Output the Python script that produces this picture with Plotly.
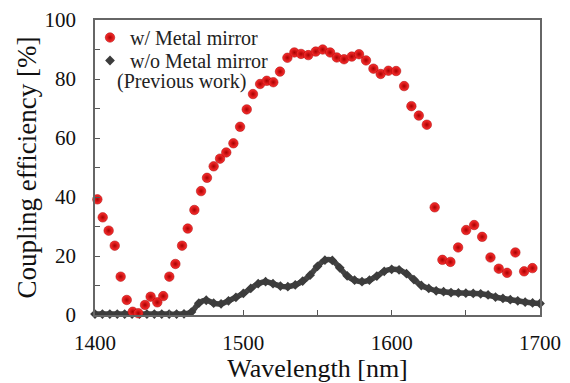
import plotly.graph_objects as go

# Red: with metal mirror
red_wl = [1401.6, 1405.2, 1409.2, 1413.3, 1417.3, 1421.4, 1425.4, 1429.2, 1433.7, 1437.5,
          1442.0, 1446.0, 1450.1, 1454.2, 1458.7, 1462.5, 1467.0, 1471.5, 1475.5, 1480.0,
          1484.3, 1488.5, 1493.3, 1497.8, 1502.3, 1506.5, 1511.3, 1515.8, 1520.2, 1524.7,
          1529.7, 1534.4, 1538.9, 1543.8, 1548.8, 1553.5, 1558.5, 1563.0, 1567.9, 1573.1,
          1578.0, 1582.7, 1587.7, 1592.6, 1597.8, 1603.0, 1608.4, 1613.3, 1618.3, 1623.7,
          1629.0, 1634.2, 1639.6, 1644.8, 1650.2, 1655.6, 1661.0, 1666.6, 1672.2, 1677.8,
          1683.4, 1689.3, 1694.9]
red_val = [39.2, 33.1, 28.6, 23.5, 13.0, 5.1, 1.1, 0.6, 3.4, 6.2,
           4.3, 6.4, 13.0, 17.3, 23.5, 29.3, 35.6, 42.0, 46.5, 50.4,
           53.0, 55.1, 58.2, 63.8, 69.7, 74.9, 78.3, 79.4, 78.9, 82.5,
           87.2, 89.0, 88.5, 88.1, 89.3, 90.0, 89.0, 87.3, 86.7, 87.6,
           88.4, 86.3, 83.5, 81.7, 82.8, 82.7, 77.6, 70.8, 67.6, 64.5,
           36.5, 18.7, 18.0, 22.9, 28.8, 30.5, 26.5, 19.5, 15.7, 14.3,
           21.2, 14.8, 15.9]

# Gray: without metal mirror (previous work)
gray_wl = [1400, 1405, 1410, 1415, 1420, 1425, 1430, 1435, 1440, 1445, 1450, 1455, 1460,
           1465, 1470, 1475, 1480, 1485, 1490, 1495, 1500, 1505, 1510, 1515, 1520, 1525,
           1530, 1535, 1540, 1545, 1550, 1555, 1560, 1565, 1570, 1575, 1580, 1585, 1590,
           1595, 1600, 1605, 1610, 1615, 1620, 1625, 1630, 1635, 1640, 1645, 1650, 1655,
           1660, 1665, 1670, 1675, 1680, 1685, 1690, 1695, 1700]
gray_val = [0.3, 0.3, 0.3, 0.3, 0.3, 0.3, 0.3, 0.3, 0.3, 0.3, 0.3, 0.3, 0.4,
            1.0, 4.0, 5.0, 4.0, 3.8, 4.8, 6.0, 7.3, 9.0, 10.6, 11.3, 10.6, 9.8,
            9.6, 10.2, 11.5, 13.5, 16.5, 18.6, 18.5, 16.0, 13.3, 11.8, 11.3, 11.8, 13.2,
            14.8, 15.5, 15.3, 14.0, 12.0, 10.0, 9.0, 8.2, 7.9, 7.6, 7.5, 7.4, 7.3,
            7.2, 6.8, 6.1, 5.6, 5.2, 4.8, 4.4, 4.1, 3.9]

FONT = "Liberation Serif"
RED_MARKER = dict(symbol="circle", size=9.5, color="#ff3030",
                  gradient=dict(type="radial", color="#a80000"),
                  line=dict(width=0.5, color="#a00000"))
GRAY_MARKER = dict(symbol="diamond", size=7.5, color="#3c3c3c")

L, R, T, B, W, H = 95, 30, 20, 68, 570, 383
pw, ph = W - L - R, H - T - B

def px_x(p):
    return (p - L) / pw

def px_y(p):
    return 1 - (p - T) / ph

fig = go.Figure()
fig.add_trace(go.Scatter(
    x=gray_wl, y=gray_val, mode="lines+markers", showlegend=False,
    line=dict(color="#444444", width=5.5, shape="spline"),
    marker=GRAY_MARKER, cliponaxis=False,
))
fig.add_trace(go.Scatter(
    x=red_wl, y=red_val, mode="markers", name="w/ Metal mirror",
    marker=RED_MARKER, cliponaxis=False, legend="legend",
))
# legend-only entry for the gray series (marker only, no line)
fig.add_trace(go.Scatter(
    x=[None], y=[None], mode="markers", name="w/o Metal mirror",
    marker=GRAY_MARKER, legend="legend2",
))

fig.add_annotation(x=px_x(115), y=px_y(81.5), xref="paper", yref="paper", text="(Previous work)",
                   showarrow=False, font=dict(family=FONT, size=20, color="#222"),
                   xanchor="left", yanchor="middle")

leg_common = dict(xanchor="left", yanchor="top", bgcolor="rgba(0,0,0,0)",
                  font=dict(family=FONT, size=20, color="#222"), itemwidth=30)

fig.update_layout(
    width=W, height=H,
    margin=dict(l=L, r=R, t=T, b=B),
    paper_bgcolor="white", plot_bgcolor="white",
    font=dict(family=FONT, color="#111"),
    showlegend=True,
    legend=dict(x=px_x(90), y=px_y(18), **leg_common),
    legend2=dict(x=px_x(90), y=px_y(41), **leg_common),
    xaxis=dict(range=[1400, 1700], dtick=100, tick0=1400, ticks="inside", ticklen=5,
               tickcolor="#555", showline=True, linecolor="#666", linewidth=1.5, mirror=True,
               showgrid=False, zeroline=False, tickfont=dict(family=FONT, size=21),
               ticklabelstandoff=8, automargin=False,
               minor=dict(dtick=50, ticks="inside", ticklen=5, tickcolor="#555"),
               title=dict(text="Wavelength [nm]", font=dict(family=FONT, size=26), standoff=2)),
    yaxis=dict(range=[0, 100], dtick=20, ticks="inside", ticklen=5,
               tickcolor="#555", showline=True, linecolor="#666", linewidth=1.5, mirror=True,
               showgrid=False, zeroline=False, tickfont=dict(family=FONT, size=21),
               ticklabelstandoff=13, automargin=False,
               minor=dict(dtick=10, ticks="inside", ticklen=5, tickcolor="#555"),
               title=dict(text="Coupling efficiency [%]", font=dict(family=FONT, size=27), standoff=0)),
)

fig.write_html("out.html", config={"displayModeBar": False},
               post_script="document.body.style.margin='0';")
